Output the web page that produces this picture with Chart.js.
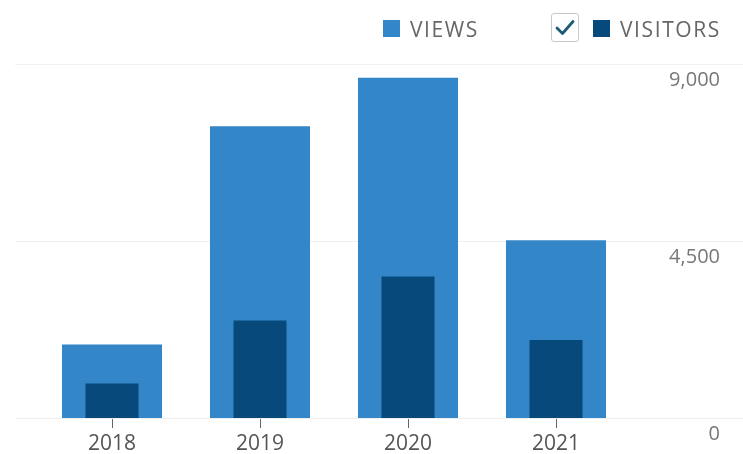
<!DOCTYPE html>
<html>
<head>
<meta charset="utf-8">
<script src="https://cdn.jsdelivr.net/npm/chart.js@4"></script>
<style>
  html, body { margin: 0; padding: 0; background: #fff; }
  #wrap { position: relative; width: 743px; height: 454px; overflow: hidden; }
  #legend {
    position: absolute; top: 14px; left: 0; width: 743px; height: 30px;
    font-family: "Open Sans", sans-serif; font-size: 21px; color: #666;
    letter-spacing: 1.6px;
  }
  .item { position: absolute; top: 0; height: 30px; line-height: 30px; white-space: nowrap; }
  .swatch { position: absolute; top: 6px; width: 17px; height: 17px; }
  .label { position: absolute; top: 0; }
  #check {
    position: absolute; top: -1px; left: 551px; width: 28px; height: 29px;
    border: 1px solid #c8c8c8; border-radius: 3px; box-sizing: border-box; background: #fff;
  }
</style>
</head>
<body>
<div id="wrap">
  <canvas id="chart" width="743" height="454"></canvas>
  <div id="legend">
    <div class="item" style="left:383px">
      <span class="swatch" style="left:0;background:#3386c7"></span>
      <span class="label" style="left:27px">VIEWS</span>
    </div>
    <div id="check">
      <svg width="26" height="27" viewBox="0 0 26 27">
        <polyline points="5,14 10.5,19.5 21,7.5" fill="none" stroke="#1d5a73" stroke-width="2.8" stroke-linecap="round" stroke-linejoin="round"/>
      </svg>
    </div>
    <div class="item" style="left:593px">
      <span class="swatch" style="left:0;background:#07497a"></span>
      <span class="label" style="left:27px">VISITORS</span>
    </div>
  </div>
</div>
<script>
// données
const years = ['2018', '2019', '2020', '2021'];
const views = [1870, 7420, 8650, 4520];
const visitors = [880, 2480, 3600, 1980];
const yTicks = [0, 4500, 9000];

// lignes horizontales très claires, sur toute la largeur
const fullGrid = {
  id: 'fullGrid',
  beforeDatasetsDraw(chart) {
    const ctx = chart.ctx;
    const y = chart.scales.y;
    ctx.save();
    ctx.strokeStyle = '#f0f0f0';
    ctx.lineWidth = 1;
    yTicks.forEach(v => {
      const py = Math.round(y.getPixelForValue(v)) + 0.5;
      ctx.beginPath();
      ctx.moveTo(15, py);
      ctx.lineTo(chart.width, py);
      ctx.stroke();
    });
    ctx.restore();
  }
};

new Chart(document.getElementById('chart'), {
  type: 'bar',
  data: {
    labels: years,
    datasets: [
      {
        label: 'VIEWS',
        data: views,
        backgroundColor: '#3386c7',
        barPercentage: 0.676,
        categoryPercentage: 1,
        order: 2
      },
      {
        label: 'VISITORS',
        data: visitors,
        backgroundColor: '#07497a',
        barPercentage: 0.358,
        categoryPercentage: 1,
        order: 1
      }
    ]
  },
  options: {
    responsive: false,
    animation: false,
    layout: { padding: { left: 38, right: 23, top: 64, bottom: 0 } },
    plugins: { legend: { display: false }, tooltip: { enabled: false } },
    datasets: { bar: { grouped: false } },
    scales: {
      x: {
        grid: { display: true, drawOnChartArea: false, drawTicks: true, tickLength: 10, offset: false, color: '#666' },
        border: { display: false },
        ticks: { font: { family: 'Open Sans', size: 21 }, color: '#555', padding: 3 },
        afterFit(scale) { scale.height = 36; }
      },
      y: {
        position: 'right',
        min: 0,
        max: 9000,
        afterBuildTicks(scale) { scale.ticks = yTicks.map(v => ({ value: v })); },
        grid: { display: false },
        border: { display: false },
        ticks: {
          font: { family: 'Open Sans', size: 20 },
          color: '#777',
          crossAlign: 'far',
          labelOffset: 16,
          padding: 0,
          callback: v => v.toLocaleString('en-US')
        },
        afterFit(scale) { scale.width = 90; }
      }
    }
  },
  plugins: [fullGrid]
});
</script>
</body>
</html>
